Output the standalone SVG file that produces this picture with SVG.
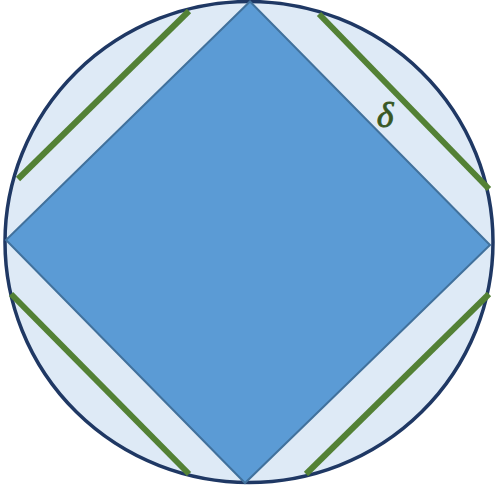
<svg xmlns="http://www.w3.org/2000/svg" width="496" height="493" viewBox="0 0 496 493">
<style>
.g{stroke:#538135;stroke-width:6;fill:none}
</style>
<rect width="496" height="493" fill="#fff"/>
<g id="circle"><ellipse cx="249" cy="242" rx="244" ry="240.5" fill="#DEEAF6" stroke="#1F3864" stroke-width="3.5"/></g>
<g id="diamond"><polygon points="250,1.5 490,245 245,483 6,240" fill="#5B9BD5" stroke="#41719C" stroke-width="2"/></g>
<g id="connectors">
<line class="g" x1="18" y1="179" x2="189" y2="11"/>
<line class="g" x1="319" y1="14" x2="489" y2="189"/>
<line class="g" x1="11" y1="294" x2="189" y2="474"/>
<line class="g" x1="306" y1="474" x2="489" y2="294"/>
</g>
<g id="label"><text x="385" y="127" font-family="Liberation Serif, serif" font-style="italic" font-size="36" fill="#385723" stroke="#385723" stroke-width="0.8" text-anchor="middle">δ</text></g>
</svg>
